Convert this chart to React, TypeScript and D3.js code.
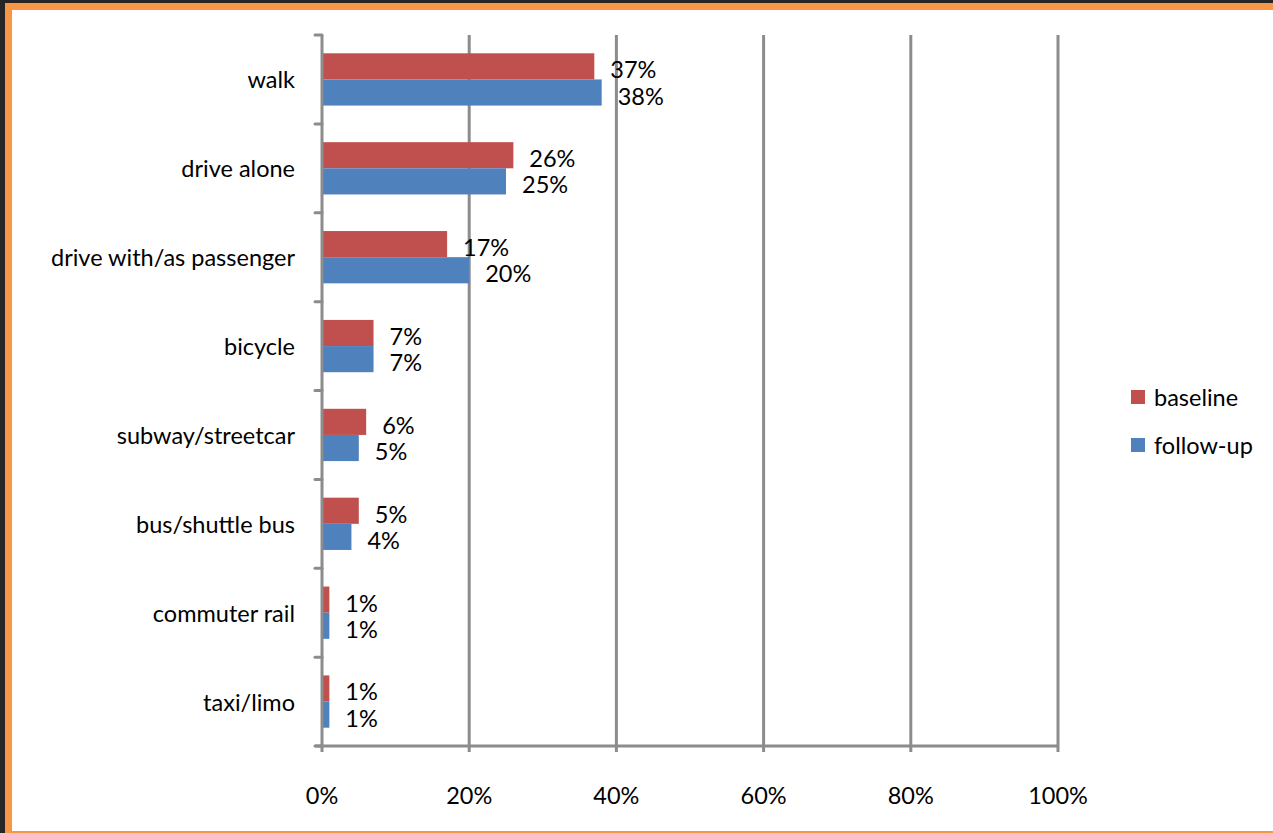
import React, { useEffect, useRef } from 'react';
import * as d3 from 'd3';

const categories = [
  'walk',
  'drive alone',
  'drive with/as passenger',
  'bicycle',
  'subway/streetcar',
  'bus/shuttle bus',
  'commuter rail',
  'taxi/limo',
];
const baseline = [37, 26, 17, 7, 6, 5, 1, 1];
const followUp = [38, 25, 20, 7, 5, 4, 1, 1];
const xTicks = [0, 20, 40, 60, 80, 100];
const seriesNames = ['baseline', 'follow-up'];
const seriesColors = ['#C0504D', '#4F81BD'];

const W = 1273;
const H = 833;
const FONT = 'Lato, "Open Sans", sans-serif';
const FS = 23.5;

const App: React.FC = () => {
  const svgRef = useRef<SVGSVGElement>(null);

  useEffect(() => {
    if (!svgRef.current) return;
    const svg = d3.select(svgRef.current);
    svg.selectAll('*').remove();

    // frame
    svg.append('rect').attr('width', W).attr('height', H).attr('fill', '#262626');
    svg.append('rect').attr('x', 5).attr('y', 3).attr('width', W - 5).attr('height', H - 3).attr('fill', '#F79646');
    svg.append('rect').attr('x', 12).attr('y', 10).attr('width', W - 12).attr('height', 821).attr('fill', '#fff');

    const left = 322, right = 1058, top = 35, bottom = 746;
    const x = d3.scaleLinear().domain([0, 100]).range([left, right]);
    const y = d3.scaleBand<string>().domain(categories).range([top, bottom]);
    const inner = d3.scaleBand<number>().domain([0, 1]).range([0, y.bandwidth()]).paddingInner(0).paddingOuter(0.7);

    const grid = '#8C8C8C';

    // vertical gridlines
    svg.append('g')
      .selectAll('line')
      .data(xTicks.slice(1))
      .join('line')
      .attr('x1', d => x(d)).attr('x2', d => x(d))
      .attr('y1', top).attr('y2', bottom + 6)
      .attr('stroke', grid).attr('stroke-width', 3);

    // bars
    const series = [baseline, followUp];
    series.forEach((vals, si) => {
      const g = svg.append('g');
      g.selectAll('rect')
        .data(vals)
        .join('rect')
        .attr('x', left)
        .attr('y', (d, i) => (y(categories[i]) as number) + (inner(si) as number))
        .attr('width', d => x(d) - left)
        .attr('height', inner.bandwidth())
        .attr('fill', seriesColors[si]);
      g.selectAll('text')
        .data(vals)
        .join('text')
        .attr('x', d => x(d) + 16)
        .attr('y', (d, i) => (y(categories[i]) as number) + (inner(si) as number) + inner.bandwidth() / 2 + 3)
        .attr('dominant-baseline', 'central')
        .attr('font-family', FONT)
        .attr('font-size', FS)
        .attr('fill', '#000')
        .text(d => `${d}%`);
    });

    // y axis line and ticks
    svg.append('line')
      .attr('x1', left).attr('x2', left)
      .attr('y1', top).attr('y2', bottom + 6)
      .attr('stroke', grid).attr('stroke-width', 3);
    const yTickPos = categories.map(c => y(c) as number).concat([bottom]);
    svg.append('g')
      .selectAll('line')
      .data(yTickPos)
      .join('line')
      .attr('x1', left - 7).attr('x2', left)
      .attr('y1', d => d).attr('y2', d => d)
      .attr('stroke', grid).attr('stroke-width', 3)
      .attr('stroke-linecap', 'round');
    // x axis line
    svg.append('line')
      .attr('x1', left - 7).attr('x2', right)
      .attr('y1', bottom).attr('y2', bottom)
      .attr('stroke', grid).attr('stroke-width', 3);

    // category labels
    svg.append('g')
      .selectAll('text')
      .data(categories)
      .join('text')
      .attr('x', 295)
      .attr('y', d => (y(d) as number) + y.bandwidth() / 2)
      .attr('text-anchor', 'end')
      .attr('dominant-baseline', 'central')
      .attr('font-family', FONT)
      .attr('font-size', FS)
      .attr('fill', '#000')
      .text(d => d);

    // x tick labels
    svg.append('g')
      .selectAll('text')
      .data(xTicks)
      .join('text')
      .attr('x', d => x(d))
      .attr('y', 795)
      .attr('text-anchor', 'middle')
      .attr('dominant-baseline', 'central')
      .attr('font-family', FONT)
      .attr('font-size', FS)
      .attr('fill', '#000')
      .text(d => `${d}%`);

    // legend
    const legend = svg.append('g');
    seriesNames.forEach((name, i) => {
      const ly = 397 + i * 48;
      legend.append('rect')
        .attr('x', 1131).attr('y', ly - 7).attr('width', 14).attr('height', 14)
        .attr('fill', seriesColors[i]);
      legend.append('text')
        .attr('x', 1154).attr('y', ly)
        .attr('dominant-baseline', 'central')
        .attr('font-family', FONT)
        .attr('font-size', FS)
        .attr('fill', '#000')
        .text(name);
    });
  }, []);

  return (
    <div style={{ position: 'absolute', left: 0, top: 0, width: W, height: H }}>
      <svg ref={svgRef} width={W} height={H} style={{ display: 'block' }} />
    </div>
  );
};

export default App;
